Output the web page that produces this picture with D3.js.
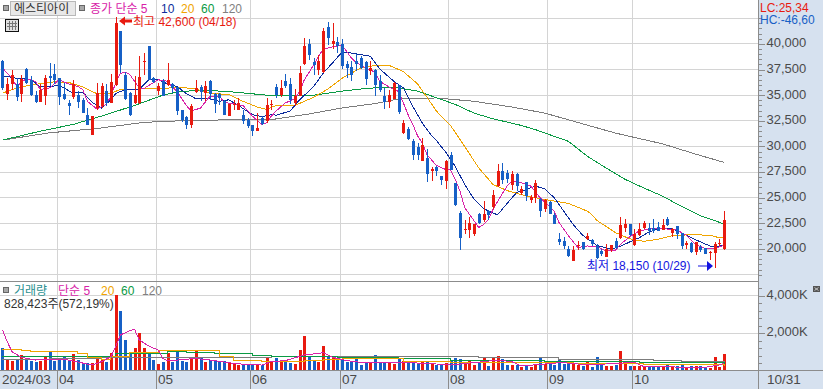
<!DOCTYPE html>
<html>
<head>
<meta charset="utf-8">
<script src="https://cdn.jsdelivr.net/npm/d3@7"></script>
<style>
  html, body { margin: 0; padding: 0; background: #fff; }
  svg { display: block; }
  text { font-family: "Liberation Sans", "Noto Sans CJK KR", sans-serif; }
</style>
</head>
<body>
<div id="general"></div>
<script>
// candles, one entry per trading day, 2024/03 .. 10/31
const opens = [
  38300,35100,36050,36050,35100,37500,36400,35000,34300,34900,
  36850,37050,36600,35100,34150,34800,35000,34500,33050,31100,
  33700,33900,35400,34200,35950,41250,36950,35150,34200,34200,
  38150,39700,36600,35400,36350,35950,36050,35700,33500,32850,
  32000,35250,35750,35150,36350,35050,35050,34350,32950,33950,
  33550,33050,32550,32000,31500,32750,32400,33950,35750,35000,
  36350,36050,34200,34900,37950,39950,38150,37450,37250,41600,
  39950,40100,39900,38000,37700,38250,38550,38150,37350,37450,
  36300,34900,34250,34600,35900,31250,31700,30500,29900,28550,
  28850,27550,27950,27100,26550,29150,26350,23500,21850,21850,
  21450,23400,22750,23650,24050,26100,27600,27350,26150,27300,
  25450,26500,24700,24950,24850,23900,24550,23250,20900,20750,
  20000,18750,20200,20600,20900,20850,20250,19750,19150,19850,
  20700,21000,22000,22350,20350,21350,22050,22050,22050,22100,
  21800,22850,21500,22150,21500,20350,20500,19700,20150,20050,
  19600,19550,20400,20000];
const highs = [
  38400,36600,37450,36600,36950,37600,36800,35350,36000,36950,
  38100,38000,36600,36150,34450,36450,35350,34700,33700,32950,
  36150,36150,36000,37050,42600,41250,37250,35250,36800,38800,
  39050,39750,36700,36150,36500,38100,36150,35750,33550,32900,
  34100,36450,35950,36300,36450,35150,35150,34500,34100,34500,
  34700,33550,32750,32000,33200,32900,34700,34500,36050,36450,
  37050,36600,35550,37750,40500,40400,38550,38900,41500,42050,
  41950,40600,40400,38250,38250,38950,38750,38250,38250,37500,
  36950,35650,35500,36200,35900,32500,31850,30700,30250,30800,
  29700,27950,28000,27100,28650,29400,26350,23700,22750,23100,
  22400,23500,24600,23800,25750,28200,28300,27700,27550,27400,
  26100,26500,25250,26650,24950,24850,24600,23500,21500,21150,
  20200,20200,20750,20650,21500,20900,20400,19950,20400,20300,
  21050,23100,22900,22350,21900,22450,22700,22450,22900,22600,
  22850,23100,22050,22150,21500,20750,20600,20650,20300,20100,
  19750,20600,20900,23650];
const lows = [
  35500,34500,35500,34350,34250,36000,34850,34200,34300,34000,
  35800,36000,33950,34450,33000,34600,33700,33200,32000,31050,
  33550,33700,33900,34150,35800,37100,34500,32950,34100,34100,
  36950,36450,36150,35000,34850,35850,35150,33050,32300,31650,
  31750,35150,34350,34350,34500,33200,33950,33050,32950,33550,
  33500,32100,31750,30950,31450,32000,32200,33500,34700,34750,
  35650,34050,33850,34900,37900,38400,36950,36950,37100,39850,
  39450,39050,37500,36600,36300,37350,37500,35950,36950,34900,
  35300,33650,33700,34600,33150,31200,30600,28650,28650,28500,
  26450,26550,27050,26150,25850,27650,24150,19900,21400,21000,
  21200,22400,22600,22750,23900,26000,26250,26400,25700,25650,
  25200,24600,24400,24450,23050,23550,23350,22350,20350,19950,
  19150,18750,19850,19850,20800,20250,18950,19300,19150,19650,
  20000,20900,21600,21250,20200,21250,21900,21300,21550,21700,
  21800,22200,21150,20900,20000,19950,19600,19400,19650,19450,
  18900,18150,20250,19850];
const closes = [
  35600,36050,36950,34800,36550,36150,35000,34300,35500,36650,
  36650,36450,34800,34600,33900,36050,34250,33200,32000,32950,
  35150,35800,34150,36250,41950,37900,34600,33050,35000,36700,
  38250,36450,36200,35800,34900,36450,35600,33400,32500,32000,
  33850,35650,35300,35850,35100,34100,34700,33050,34050,34100,
  34200,32400,31900,31500,31750,32100,33950,34100,35000,35650,
  35800,34450,34850,37100,39750,38900,37900,38300,41200,40500,
  40250,39700,37800,37600,36950,38000,37600,36500,37600,35950,
  35500,34250,35000,36150,33300,32200,30700,29100,29150,30050,
  27300,27800,27550,26650,28500,27700,24200,21000,21950,22450,
  22350,22500,23400,23250,25250,27550,26650,26750,27300,26100,
  25800,25150,25000,26350,23650,24700,23350,22400,20650,20250,
  19300,19850,20300,20000,21250,20400,19050,19500,20000,20300,
  20100,22250,22350,21350,21400,21950,22450,21750,21750,21750,
  22250,22250,21900,21450,20250,20500,19700,20600,19850,19500,
  19700,20400,20500,22800];
// volume in thousands of shares
const volumes = [
  1170,590,480,530,780,590,480,410,480,710,
  960,480,530,675,480,850,530,300,355,390,
  765,570,445,890,4000,3150,1600,890,1170,1990,
  1170,925,530,320,445,890,445,1065,480,445,
  660,1065,620,445,530,480,445,480,355,320,
  265,250,300,265,320,265,660,445,620,445,
  445,390,320,1065,1815,675,480,445,1280,675,
  675,530,530,445,445,570,265,355,390,800,
  445,355,390,320,570,480,480,445,355,445,
  445,355,265,265,355,530,640,590,445,480,
  265,390,660,210,660,745,570,265,265,265,
  140,250,180,320,660,320,355,265,570,320,
  320,320,285,210,480,180,675,265,210,210,
  265,1015,320,210,210,230,180,180,180,180,
  180,285,180,230,265,180,210,210,210,125,
  125,695,180,828];

// moving averages: day index + value
const ma5Days = [0,2,3,5,7,8,10,12,14,16,17,18,20,22,23,24,25,26,27,28,29,30,31,33,35,36,37,39,40,42,44,46,47,49,51,53,55,56,57,58,60,62,63,64,66,67,68,70,72,74,75,77,79,80,82,84,85,86,87,88,89,90,92,94,95,96,97,98,100,101,102,103,104,105,107,108,110,112,114,116,117,118,120,122,124,126,128,130,131,133,135,137,140,143,145,147,149,151,153];
const ma5Values = [37600,36600,35800,36550,36300,35500,35650,36450,36050,35800,35500,34350,33600,34050,34850,36150,37050,37200,36950,36300,35650,35600,35900,36450,36300,35750,35300,33950,33400,33700,34850,34850,34250,34100,33950,32900,32100,32250,32900,33400,34200,34600,35300,36450,37900,38700,39450,39650,39850,38550,38150,37600,37200,36300,35750,35300,34200,33050,32100,31000,30300,29150,28100,27700,27650,26750,25600,24000,22700,22050,22350,22800,23800,24600,26100,26600,26400,26100,24950,24100,23650,22550,21250,20100,20250,20200,19750,19850,20400,21150,21700,21900,21950,21800,21300,20400,20000,20000,20300];
const ma10Days = [0,3,6,8,10,12,15,17,19,21,23,24,26,29,31,33,35,37,39,41,44,46,48,50,53,55,57,58,61,63,66,68,70,72,74,78,80,83,85,87,89,90,91,92,93,94,96,98,100,102,104,105,107,109,111,113,115,117,119,121,123,125,126,127,129,131,133,135,137,139,142,144,147,150,152,153];
const ma10Values = [36850,36600,36500,35750,35800,35900,35150,35250,34250,33700,34500,35100,35500,35500,36450,36450,36050,35800,35100,34600,34600,34350,34500,33950,33050,32850,33050,33000,33400,34500,35800,37100,38100,39150,39050,38750,37500,36300,35650,33850,32250,31600,31000,30550,29950,29400,28000,26250,24800,23900,23450,23300,24400,25450,25750,26100,25800,24950,23650,22350,21300,20650,20300,20200,19950,20200,20650,21050,21600,21900,21950,21550,20850,20250,20200,20400];
const ma20Days = [0,3,6,11,14,17,20,23,25,29,33,38,41,44,48,51,54,56,58,62,66,69,72,76,79,82,85,88,90,92,95,98,101,104,107,110,113,116,120,124,125,126,127,130,133,136,139,142,146,150,152,153];
const ma20Values = [35150,35650,35950,36250,36200,35750,35100,35150,35500,35550,35600,35700,35550,35150,35000,34350,33800,33550,33950,33950,34750,35550,36600,37600,37850,37850,37250,36050,34750,33400,32000,29950,27850,26250,25650,25250,24950,24700,24400,23650,23300,22750,22450,21550,20950,20700,20900,21250,21350,21300,21050,21150];
const ma60Days = [0,8,15,22,28,34,37,42,48,56,58,66,72,76,80,84,88,92,96,100,104,110,113,116,120,124,128,132,136,140,144,148,153];
const ma60Values = [30570,31440,32100,33050,33950,34950,35250,35450,35300,34950,34950,34950,35350,35550,35700,35650,35350,34700,34050,33200,32650,32000,31590,31100,30450,29000,27850,26750,25900,25100,24100,23200,22400];
const ma120Days = [0,10,20,30,40,50,56,58,65,72,79,84,92,100,108,115,120,125,130,140,147,153];
const ma120Values = [30570,31280,31700,32300,32500,32550,32550,32630,33120,33700,34130,34580,34680,34350,33800,33200,32550,31900,31250,30200,29200,28400];

// volume moving averages, thousands of shares
const vol5Days = [0,1,2,4,7,9,12,14,19,21,23,24,25,27,28,29,31,33,34,35,37,41,44,49,52,55,57,60,64,67,68,70,73,76,85,92,95,102,105,108,110,115,117,118,123,128,134,136,149,152,153];
const vol5Values = [2130,1510,980,675,530,570,570,530,265,445,710,1245,1865,2100,2170,1600,1280,1065,620,500,530,620,530,355,285,265,445,500,800,890,925,675,500,410,410,320,265,445,530,445,215,320,355,410,300,320,410,180,140,265,355];
const vol20Days = [0,4,6,14,16,18,21,23,27,33,41,44,46,49,55,60,64,68,72,82,85,95,115,121,134,136,153];
const vol20Values = [1100,1065,995,980,890,675,570,710,925,1030,1065,1030,745,530,445,445,500,570,620,605,480,410,410,355,355,300,215];
const vol60Days = [0,19,24,35,39,45,53,57,71,84,95,115,123,135,153];
const vol60Values = [710,710,855,980,940,855,800,710,675,620,530,445,445,390,300];
const vol120Days = [0,10,21,39,57,72,95,101,115,118,138,144,148,153];
const vol120Values = [570,605,660,675,710,695,695,675,660,570,530,480,445,410];

// month starts along the bottom
const monthDays = [0,12,33,53,72,95,116,134];
const monthLabels = ["2024/03","04","05","06","07","08","09","10"];

const priceLabels = [20000,22500,25000,27500,30000,32500,35000,37500,40000];
const priceGrid = [17500,20000,22500,25000,27500,30000,32500,35000,37500,40000,42500];
const priceMinor = d3.range(17500, 42501, 500);
const volLabels = [2000,4000];
const volMinor = d3.range(400, 4401, 400);

const w = 823, h = 389;
const axisX = 758;
const colred = "#e81a10", colblue = "#1660c6", colgrid = "#d4d4d4", colaxis = "#8c8c8c", colpanel = "#d6e1ef";
const colma5 = "#d822a8", colma10 = "#0c2c9c", colma20 = "#f0a400", colma60 = "#0a9a44", colma120 = "#7c7c7c";
const tickFont = '"Liberation Sans Narrow", "Liberation Sans", sans-serif';

const x = d3.scaleBand().domain(d3.range(opens.length)).range([0.14, 726.4]);
const cx = i => x(i) + x.bandwidth() / 2;
const y = d3.scaleLinear().domain([17500, 42500]).range([274.2, 17.7]);
const yv = d3.scaleLinear().domain([0, 4000]).range([370, 295]);

const svg = d3.select("#general").append("svg").attr("width", w).attr("height", h).attr("viewBox", `0 0 ${w} ${h}`);

// panels
svg.append("rect").attr("x", axisX).attr("y", 0).attr("width", w - axisX).attr("height", h).attr("fill", colpanel);
svg.append("rect").attr("x", 0).attr("y", 371).attr("width", w).attr("height", h - 371).attr("fill", colpanel);

// grid
const grid = svg.append("g").attr("shape-rendering", "crispEdges").attr("stroke", colgrid);
grid.selectAll(".gp").data(priceGrid).join("line").attr("class", "gp")
  .attr("x1", 0).attr("x2", axisX).attr("y1", d => Math.round(y(d)) + 0.5).attr("y2", d => Math.round(y(d)) + 0.5);
grid.selectAll(".gv").data(volLabels).join("line").attr("class", "gv")
  .attr("x1", 0).attr("x2", axisX).attr("y1", d => Math.round(yv(d)) + 0.5).attr("y2", d => Math.round(yv(d)) + 0.5);
grid.selectAll(".gm").data(monthDays.slice(1)).join("line").attr("class", "gm")
  .attr("x1", d => Math.round(x(d)) + 0.5).attr("x2", d => Math.round(x(d)) + 0.5).attr("y1", 0).attr("y2", 371);

// frame lines
const frame = svg.append("g").attr("shape-rendering", "crispEdges").attr("stroke", colaxis);
frame.append("line").attr("x1", 0).attr("x2", axisX).attr("y1", 281.5).attr("y2", 281.5);
frame.append("line").attr("x1", 0).attr("x2", w).attr("y1", 370.5).attr("y2", 370.5);
frame.append("line").attr("x1", axisX + 0.5).attr("x2", axisX + 0.5).attr("y1", 0).attr("y2", h);
frame.selectAll(".tm").data(monthDays.slice(1)).join("line").attr("class", "tm")
  .attr("x1", d => Math.round(x(d)) + 0.5).attr("x2", d => Math.round(x(d)) + 0.5).attr("y1", 371).attr("y2", h);

// moving average lines
const maLine = (g, scale, dayList, values, color, curve) => {
  g.append("path")
    .attr("d", d3.line().curve(curve || d3.curveLinear).x((d, k) => cx(dayList[k])).y(d => scale(d))(values))
    .attr("fill", "none").attr("stroke", color).attr("stroke-width", 1)
    .attr("shape-rendering", "crispEdges");
};
const maG = svg.append("g");
maLine(maG, y, ma120Days, ma120Values, colma120);
maLine(maG, y, ma60Days, ma60Values, colma60);
maLine(maG, y, ma20Days, ma20Values, colma20);
maLine(maG, y, ma10Days, ma10Values, colma10);
maLine(maG, y, ma5Days, ma5Values, colma5);

// candles sit on top of the averages
const days = d3.range(opens.length);
const up = i => closes[i] >= opens[i];
const candles = svg.append("g").attr("shape-rendering", "crispEdges");
candles.selectAll(".wick").data(days).join("rect").attr("class", "wick")
  .attr("x", i => Math.round(cx(i)))
  .attr("width", 1)
  .attr("y", i => y(highs[i]))
  .attr("height", i => y(lows[i]) - y(highs[i]))
  .attr("fill", i => up(i) ? colred : colblue);
candles.selectAll(".body").data(days).join("rect").attr("class", "body")
  .attr("x", i => Math.round(cx(i)) - 1)
  .attr("width", 3)
  .attr("y", i => y(Math.max(opens[i], closes[i])))
  .attr("height", i => Math.max(1, Math.abs(y(opens[i]) - y(closes[i]))))
  .attr("fill", i => up(i) ? colred : colblue);

// volume bars
svg.append("g").attr("shape-rendering", "crispEdges")
  .selectAll("rect").data(days).join("rect")
  .attr("x", i => Math.round(cx(i)) - 1)
  .attr("width", 3)
  .attr("y", i => yv(volumes[i]))
  .attr("height", i => yv(0) - yv(volumes[i]))
  .attr("fill", i => up(i) ? colred : colblue);

const volG = svg.append("g");
maLine(volG, yv, vol120Days, vol120Values, colma120, d3.curveStepAfter);
maLine(volG, yv, vol60Days, vol60Values, colma60, d3.curveStepAfter);
maLine(volG, yv, vol20Days, vol20Values, colma20, d3.curveStepAfter);
maLine(volG, yv, vol5Days, vol5Values, colma5);

// right axes
const styleAxis = g => {
  g.select(".domain").remove();
  g.selectAll("line").attr("stroke", colaxis).attr("shape-rendering", "crispEdges");
  g.selectAll("text").attr("fill", "#4a4a4a").attr("dy", "0.22em").style("font-family", tickFont).style("font-size", "13px");
};
svg.append("g").attr("transform", `translate(${axisX + 0.5},0.5)`)
  .call(d3.axisRight(y).tickValues(priceMinor).tickSize(3).tickFormat(""))
  .call(styleAxis);
svg.append("g").attr("transform", `translate(${axisX + 0.5},0.5)`)
  .call(d3.axisRight(y).tickValues(priceLabels).tickSize(6).tickPadding(2).tickFormat(d3.format(",")))
  .call(styleAxis);
svg.append("g").attr("transform", `translate(${axisX + 0.5},0.5)`)
  .call(d3.axisRight(yv).tickValues(volMinor).tickSize(3).tickFormat(""))
  .call(styleAxis);
svg.append("g").attr("transform", `translate(${axisX + 0.5},0.5)`)
  .call(d3.axisRight(yv).tickValues(volLabels).tickSize(6).tickPadding(2).tickFormat(d => d3.format(",")(d) + "K"))
  .call(styleAxis);

// bottom month labels
svg.append("g").selectAll("text").data(monthDays).join("text")
  .attr("x", d => Math.round(x(d)) + 2)
  .attr("y", 384)
  .attr("fill", "#4a4a4a")
  .style("font-family", tickFont).style("font-size", "13.5px")
  .text((d, k) => monthLabels[k]);
svg.append("text").attr("x", 767).attr("y", 384).attr("fill", "#4a4a4a")
  .style("font-family", tickFont).style("font-size", "13.5px").text("10/31");

// header legend
const label = (px, py, txt, color) => svg.append("text").attr("x", px).attr("y", py)
  .attr("fill", color).attr("font-size", 12).text(txt);
const square = (px, py) => svg.append("rect").attr("x", px).attr("y", py).attr("width", 5).attr("height", 5)
  .attr("fill", "#a8a8a8").attr("stroke", "#666").attr("shape-rendering", "crispEdges");

square(3, 5);
svg.append("rect").attr("x", 10.5).attr("y", 1.5).attr("width", 65).attr("height", 14)
  .attr("fill", "#e8e8e8").attr("stroke", "#b8b8b8").attr("shape-rendering", "crispEdges");
label(14, 12.5, "에스티아이", "#333");
square(79, 5);
label(90, 12.5, "종가 단순 5", colma5);
label(161, 12.5, "10", colma10);
label(181, 12.5, "20", colma20);
label(201, 12.5, "60", colma60);
label(222, 12.5, "120", "#808080");

// table icon
const icon = svg.append("g").attr("shape-rendering", "crispEdges");
icon.append("rect").attr("x", 5.5).attr("y", 19.5).attr("width", 13).attr("height", 12).attr("fill", "#e0e0e0").attr("stroke", "#111");
[9.5, 12.5, 15.5].forEach(px => icon.append("line").attr("x1", px).attr("x2", px).attr("y1", 21).attr("y2", 30).attr("stroke", "#777"));
[23.5, 26.5].forEach(py => icon.append("line").attr("x1", 7).attr("x2", 17).attr("y1", py).attr("y2", py).attr("stroke", "#777"));

// high and low notes
svg.append("path").attr("d", "M119,21 L125,16.5 L125,19.5 L132,19.5 L132,22.5 L125,22.5 L125,25.5 Z").attr("fill", colred);
label(133, 26, "최고 42,600 (04/18)", colred);
label(587, 270, "최저 18,150 (10/29)", "#1414e0");
svg.append("path").attr("d", "M698,266 L707,266").attr("stroke", "#1414e0").attr("fill", "none");
svg.append("path").attr("d", "M713,266 L707,261 L707,271 Z").attr("fill", "#1414e0");

// LC / HC
label(760, 12, "LC:25,34", colred);
label(760, 24, "HC:-46,60", colblue);

// volume legend
square(3, 287);
label(14, 295, "거래량", "#2a9090");
label(58, 295, "단순 5", colma5);
label(101, 295, "20", colma20);
label(121, 295, "60", colma60);
label(142, 295, "120", "#808080");
label(4, 308, "828,423주(572,19%)", "#333");

// small collapse button
svg.append("rect").attr("x", 813).attr("y", 286).attr("width", 7).attr("height", 6).attr("fill", "#555").attr("shape-rendering", "crispEdges");
svg.append("path").attr("d", "M814.5,287.5 L818.5,290.5 M818.5,287.5 L814.5,290.5").attr("stroke", "#eee").attr("stroke-width", 0.7);
</script>
</body>
</html>
